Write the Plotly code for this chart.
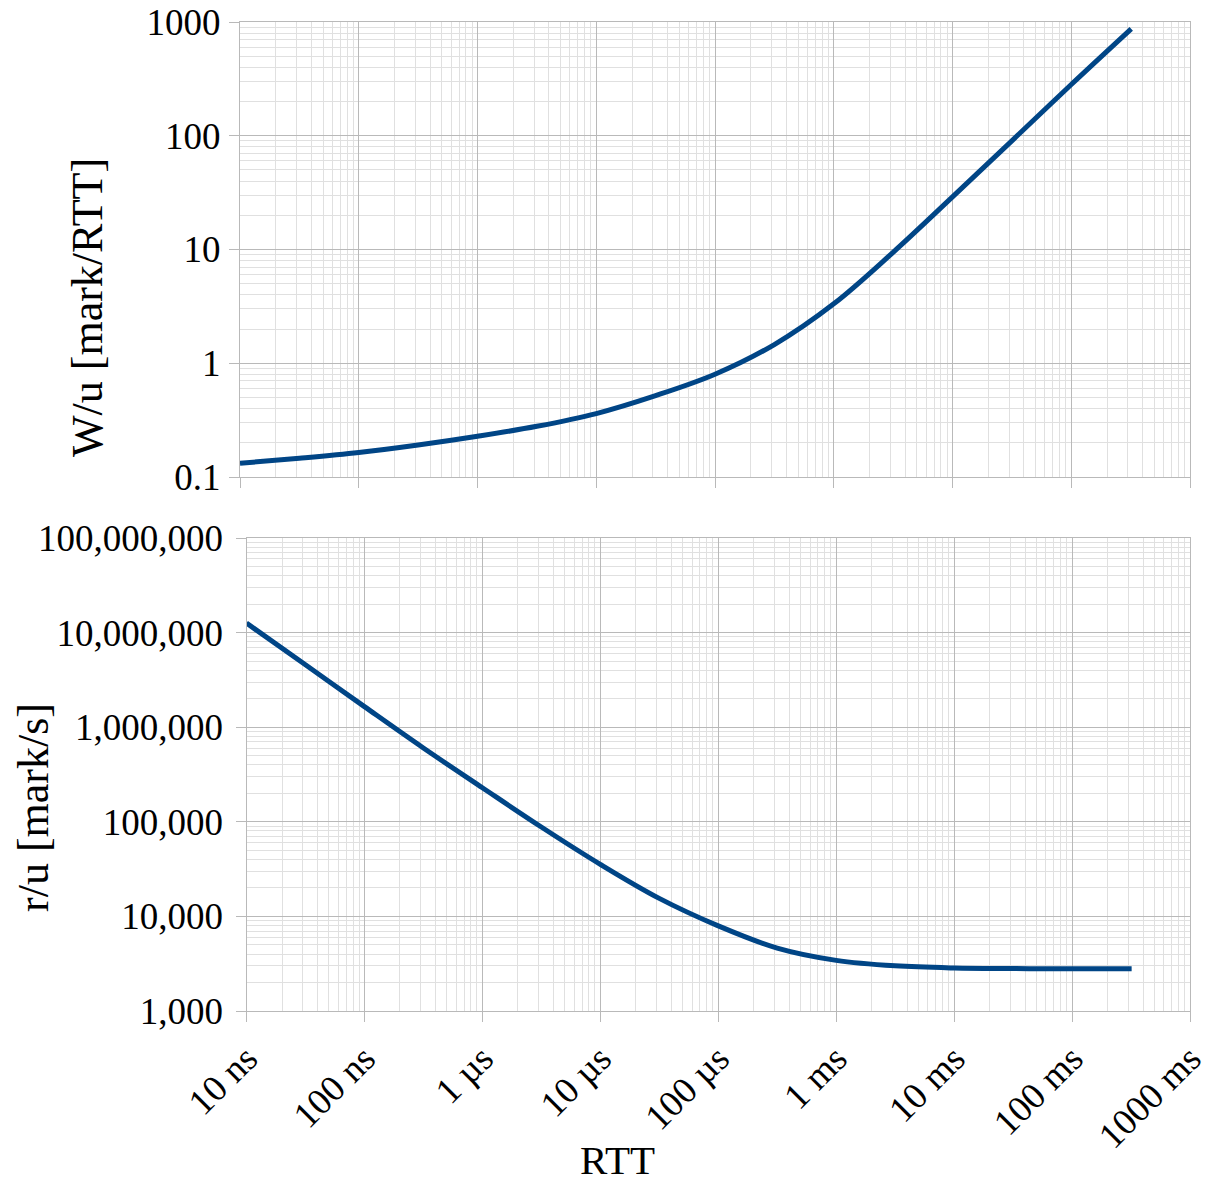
import plotly.graph_objects as go

# ---- data ----
rtt_s = [1e-8, 3.16e-8, 1e-7, 3.16e-7, 1e-6, 3.16e-6, 1e-5, 3.16e-5,
         1e-4, 3.16e-4, 1e-3, 3.16e-3, 1e-2, 3.16e-2, 1e-1, 3.2e-1]
w_per_u = [0.132, 0.146, 0.164, 0.191, 0.228, 0.279, 0.361, 0.519,
           0.80, 1.46, 3.33, 9.45, 29.0, 90.2, 282, 870]
r_per_u = [1.26e7, 4.57e6, 1.65e6, 6.03e5, 2.29e5, 8.81e4, 3.55e4, 1.55e4,
           7.94e3, 4.62e3, 3.43e3, 3.0e3, 2.85e3, 2.81e3, 2.79e3, 2.79e3]

x_tickvals = [1e-8, 1e-7, 1e-6, 1e-5, 1e-4, 1e-3, 1e-2, 1e-1, 1]
x_ticktext = ["10 ns", "100 ns", "1 µs", "10 µs", "100 µs", "1 ms", "10 ms", "100 ms", "1000 ms"]
w_tickvals = [0.1, 1, 10, 100, 1000]
w_ticktext = ["0.1", "1", "10", "100", "1000"]
r_tickvals = [1e3, 1e4, 1e5, 1e6, 1e7, 1e8]
r_ticktext = ["1,000", "10,000", "100,000", "1,000,000", "10,000,000", "100,000,000"]

W, H = 1209, 1184
FONT = "Liberation Serif, Times New Roman, Times, DejaVu Serif, serif"
LINE_COLOR = "#004586"
MAJOR = "#b9b9b9"
MINOR = "#e0e0e0"


def px(x):
    return x / W


def py(y):
    return 1 - y / H


def minor_vals(lo_exp, hi_exp):
    vals = []
    for e in range(lo_exp, hi_exp):
        for d in range(2, 10):
            vals.append(d * 10.0 ** e)
    return vals


def axis_common(rng, tickvals, ticktext, minor, show_labels, angle=0, standoff=0):
    return dict(
        type="log", range=rng, tickmode="array", tickvals=tickvals, ticktext=ticktext,
        showticklabels=show_labels, tickangle=angle,
        ticks="outside", ticklen=10, tickcolor=MAJOR, tickwidth=1,
        showgrid=True, gridcolor=MAJOR, gridwidth=1,
        showline=True, linecolor=MAJOR, linewidth=1, mirror=True,
        zeroline=False, automargin=False,
        tickfont=dict(family=FONT, size=37, color="black"),
        ticklabelstandoff=standoff,
        minor=dict(tickmode="array", tickvals=minor, showgrid=True,
                   gridcolor=MINOR, gridwidth=1, ticks=""),
    )


fig = go.Figure()
fig.add_trace(go.Scatter(x=rtt_s, y=w_per_u, mode="lines",
                         line=dict(color=LINE_COLOR, width=5, shape="spline"),
                         xaxis="x", yaxis="y", showlegend=False))
fig.add_trace(go.Scatter(x=rtt_s, y=r_per_u, mode="lines",
                         line=dict(color=LINE_COLOR, width=5, shape="spline"),
                         xaxis="x2", yaxis="y2", showlegend=False))

xa1 = axis_common([-8, 0], x_tickvals, x_ticktext, minor_vals(-8, 0), False)
xa1.update(domain=[px(240), px(1190)], anchor="y")
ya1 = axis_common([-1, 3], w_tickvals, w_ticktext, minor_vals(-1, 3), True, standoff=1)
ya1.update(domain=[py(477), py(22)], anchor="x")

xa2 = axis_common([-8, 0], x_tickvals, x_ticktext, minor_vals(-8, 0), True, angle=-45, standoff=0)
xa2.update(domain=[px(246.5), px(1190)], anchor="y2")
ya2 = axis_common([3, 8], r_tickvals, r_ticktext, minor_vals(3, 8), True, standoff=5)
ya2.update(domain=[py(1011), py(538)], anchor="x2")

fig.update_layout(
    width=W, height=H,
    margin=dict(l=0, r=0, t=0, b=0),
    paper_bgcolor="white", plot_bgcolor="white",
    xaxis=xa1, yaxis=ya1, xaxis2=xa2, yaxis2=ya2,
    font=dict(family=FONT, color="black"),
    annotations=[
        dict(text="W/u [mark/RTT]", x=px(88), y=py(308), xref="paper", yref="paper",
             textangle=-90, showarrow=False, xanchor="center", yanchor="middle",
             font=dict(family=FONT, size=44, color="black")),
        dict(text="r/u [mark/s]", x=px(33), y=py(808), xref="paper", yref="paper",
             textangle=-90, showarrow=False, xanchor="center", yanchor="middle",
             font=dict(family=FONT, size=44, color="black")),
        dict(text="RTT", x=px(617), y=py(1160), xref="paper", yref="paper",
             showarrow=False, xanchor="center", yanchor="middle",
             font=dict(family=FONT, size=41, color="black")),
    ],
)

# remove the default 8px page margin so the figure fills the window exactly
fig.write_html("out.html", config={"displayModeBar": False},
               post_script="document.body.style.margin='0px';")
